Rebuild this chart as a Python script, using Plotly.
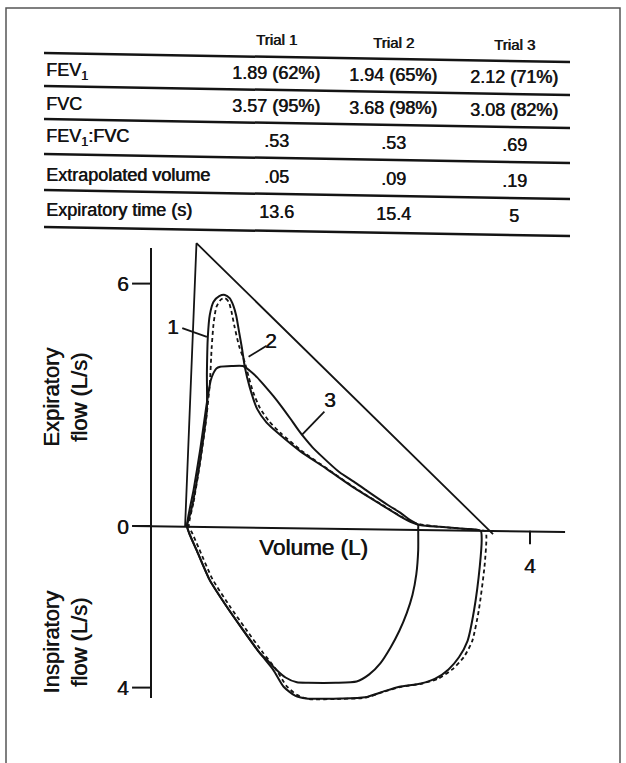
import plotly.graph_objects as go

W, H = 626, 763

# ---- Table contents ----
trial_names = ["Trial 1", "Trial 2", "Trial 3"]
row_labels = ["FEV<sub>1</sub>", "FVC", "FEV<sub>1</sub>:FVC",
              "Extrapolated volume", "Expiratory time (s)"]
trial1_values = ["1.89 (62%)", "3.57 (95%)", ".53", ".05", "13.6"]
trial2_values = ["1.94 (65%)", "3.68 (98%)", ".53", ".09", "15.4"]
trial3_values = ["2.12 (71%)", "3.08 (82%)", ".69", ".19", "5"]

# ---- Flow-volume loops: volume (L), flow (L/s; expiration positive) ----
trial1_vol = [0.38, 0.42, 0.48, 0.55, 0.59, 0.59, 0.60, 0.62, 0.66, 0.72, 0.78,
              0.83, 0.87, 0.90, 0.93, 0.96, 0.99, 1.04, 1.12, 1.22, 1.34, 1.57,
              1.85, 2.14, 2.45, 2.63, 2.75, 2.85, 3.05, 3.30, 3.48,
              3.49, 3.47, 3.41, 3.34, 3.25, 3.14, 3.00, 2.85, 2.62, 2.45, 2.26,
              2.00, 1.64, 1.52, 1.40, 1.29, 1.15, 0.97, 0.80, 0.62, 0.48, 0.41, 0.38]
trial1_flow = [0.00, 0.35, 1.06, 2.13, 2.87, 3.79, 4.69, 5.22, 5.55, 5.69, 5.72,
               5.64, 5.45, 5.20, 4.80, 4.40, 3.94, 3.45, 2.90, 2.56, 2.30, 1.86,
               1.42, 0.95, 0.50, 0.24, 0.09, 0.02, -0.02, -0.07, -0.12,
               -0.30, -1.00, -2.08, -2.85, -3.25, -3.55, -3.78, -3.90, -3.98, -4.10, -4.24,
               -4.27, -4.27, -4.20, -3.98, -3.56, -3.15, -2.57, -2.00, -1.34, -0.59, -0.22, 0.00]

trial2_vol = [0.40, 0.45, 0.52, 0.58, 0.62, 0.64, 0.66, 0.69, 0.74, 0.78, 0.82,
              0.85, 0.88, 0.93, 0.99, 1.03, 1.08, 1.15, 1.25, 1.37, 1.59, 1.87,
              2.16, 2.47, 2.65, 2.78, 2.90, 3.10, 3.35, 3.53,
              3.54, 3.52, 3.46, 3.39, 3.30, 3.18, 3.03, 2.86, 2.64, 2.46, 2.26,
              2.00, 1.66, 1.54, 1.43, 1.32, 1.18, 1.00, 0.83, 0.65, 0.51, 0.44, 0.40]
trial2_flow = [0.00, 0.60, 1.60, 2.60, 3.50, 4.40, 5.00, 5.42, 5.61, 5.64, 5.55,
               5.30, 4.95, 4.45, 4.05, 3.70, 3.30, 2.92, 2.58, 2.30, 1.86, 1.40,
               0.93, 0.48, 0.22, 0.08, 0.02, -0.03, -0.08, -0.13,
               -0.30, -1.00, -2.08, -2.85, -3.25, -3.55, -3.78, -3.90, -3.98, -4.10, -4.25,
               -4.28, -4.28, -4.18, -3.96, -3.55, -3.13, -2.55, -1.98, -1.32, -0.58, -0.20, 0.00]

trial3_vol = [0.38, 0.45, 0.52, 0.58, 0.63, 0.66, 0.69, 0.73, 0.85, 0.97, 1.04,
              1.12, 1.20, 1.29, 1.38, 1.47, 1.56, 1.62, 1.70, 1.80, 1.99,
              2.14, 2.28, 2.50, 2.63, 2.72, 2.82,
              2.82, 2.82, 2.80, 2.76, 2.70, 2.62, 2.53, 2.42, 2.30, 2.17, 1.95,
              1.66, 1.54, 1.42, 1.32, 1.24, 1.15, 0.97, 0.80, 0.62, 0.48, 0.41, 0.38]
trial3_flow = [0.00, 0.90, 1.90, 2.90, 3.60, 3.79, 3.90, 3.94, 3.96, 3.96, 3.85,
               3.68, 3.47, 3.22, 2.95, 2.66, 2.36, 2.18, 1.96, 1.73, 1.33,
               1.10, 0.87, 0.52, 0.33, 0.17, 0.02,
               -0.05, -0.60, -1.20, -1.70, -2.15, -2.60, -3.00, -3.40, -3.68, -3.85, -3.88,
               -3.88, -3.87, -3.75, -3.55, -3.35, -3.15, -2.57, -2.00, -1.34, -0.59, -0.22, 0.00]

# Predicted expiratory envelope
predicted_vol = [0.36, 0.48, 3.61]
predicted_flow = [0.00, 7.00, -0.20]

# Axis ticks
flow_ticks = [6, 0, -4]
flow_tick_text = ["6", "0", "4"]
volume_ticks = [4]
volume_tick_text = ["4"]

# Curve labels: (text, label position, leader start, leader end)
curve_labels = [
    ("1", (0.23, 4.95), (0.33, 4.90), (0.59, 4.68)),
    ("2", (1.27, 4.58), (1.22, 4.46), (1.03, 4.19)),
    ("3", (1.89, 3.12), (1.83, 2.83), (1.59, 2.25)),
]

INK = "#141414"
FONT = "Liberation Sans, Arial, Helvetica, sans-serif"
HEAVY = "0.6px 0 0 #141414"


def px(x):
    return x / W


def py(y):
    return 1 - y / H


def tfont(size):
    return dict(family=FONT, size=size, color=INK, shadow=HEAVY)


fig = go.Figure()

fig.add_trace(go.Scatter(x=predicted_vol, y=predicted_flow, mode="lines",
                         line=dict(color=INK, width=1.8), hoverinfo="skip"))
fig.add_trace(go.Scatter(x=trial3_vol, y=trial3_flow, mode="lines",
                         line=dict(color=INK, width=2, shape="spline", smoothing=0.6),
                         hoverinfo="skip"))
fig.add_trace(go.Scatter(x=trial1_vol, y=trial1_flow, mode="lines",
                         line=dict(color=INK, width=2, shape="spline", smoothing=0.6),
                         hoverinfo="skip"))
fig.add_trace(go.Scatter(x=trial2_vol, y=trial2_flow, mode="lines",
                         line=dict(color=INK, width=1.8, dash="4px,3px",
                                   shape="spline", smoothing=0.6),
                         hoverinfo="skip"))

shapes = []
annotations = []

# Axis lines
shapes.append(dict(type="line", xref="x", yref="y", x0=0, x1=0, y0=6.88, y1=-4.26,
                   line=dict(color=INK, width=2)))
shapes.append(dict(type="line", xref="x", yref="y", x0=-0.19, x1=4.37, y0=0.0, y1=-0.15,
                   line=dict(color=INK, width=2)))

# Flow ticks and labels
for v, t in zip(flow_ticks, flow_tick_text):
    shapes.append(dict(type="line", xref="x", yref="y", x0=-0.2, x1=0, y0=v, y1=v,
                       line=dict(color=INK, width=2)))
    annotations.append(dict(x=-0.30, y=v, xref="x", yref="y", text=t, showarrow=False,
                            xanchor="center", yanchor="middle", font=tfont(21)))

# Volume tick and label
for v, t in zip(volume_ticks, volume_tick_text):
    shapes.append(dict(type="line", xref="x", yref="y", x0=v, x1=v, y0=-0.12, y1=-0.45,
                       line=dict(color=INK, width=2)))
    annotations.append(dict(x=v, y=-0.97, xref="x", yref="y", text=t, showarrow=False,
                            xanchor="center", yanchor="middle", font=tfont(21)))

annotations.append(dict(x=1.71, y=-0.52, xref="x", yref="y", text="Volume (L)",
                        showarrow=False, xanchor="center", yanchor="middle",
                        font=tfont(22.5)))
annotations.append(dict(x=-0.90, y=3.19, xref="x", yref="y",
                        text="Expiratory<br>flow (L/s)", textangle=-90,
                        showarrow=False, xanchor="center", yanchor="middle",
                        font=tfont(22)))
annotations.append(dict(x=-0.90, y=-2.87, xref="x", yref="y",
                        text="Inspiratory<br>flow (L/s)", textangle=-90,
                        showarrow=False, xanchor="center", yanchor="middle",
                        font=tfont(22)))

# Curve labels with leader lines
for text, (lx, ly), (ax0, ay0), (ax1, ay1) in curve_labels:
    annotations.append(dict(x=lx, y=ly, xref="x", yref="y", text=text, showarrow=False,
                            xanchor="center", yanchor="middle", font=tfont(21)))
    shapes.append(dict(type="line", xref="x", yref="y", x0=ax0, y0=ay0, x1=ax1, y1=ay1,
                       line=dict(color=INK, width=1.8)))

# ---- Table ----
col_x = [276, 393, 514]
header_y = [40, 42, 44]
for name, cx, hy in zip(trial_names, col_x, header_y):
    annotations.append(dict(x=px(cx), y=py(hy), xref="paper", yref="paper", text=name,
                            showarrow=False, xanchor="center", yanchor="middle",
                            font=tfont(15)))

label_y = [72, 104, 138, 175, 210]
value_y = [73, 106, 141, 177, 212]
for lab, ly in zip(row_labels, label_y):
    annotations.append(dict(x=px(44), y=py(ly), xref="paper", yref="paper", text=lab,
                            showarrow=False, xanchor="left", yanchor="middle",
                            font=tfont(18)))
for ci, vals in enumerate([trial1_values, trial2_values, trial3_values]):
    for val, vy in zip(vals, value_y):
        annotations.append(dict(x=px(col_x[ci]), y=py(vy + 2 * ci), xref="paper",
                                yref="paper", text=val, showarrow=False,
                                xanchor="center", yanchor="middle", font=tfont(18)))

rule_left = [53, 86, 119, 154, 190, 227]
for yl in rule_left:
    shapes.append(dict(type="line", xref="paper", yref="paper",
                       x0=px(44), x1=px(570), y0=py(yl), y1=py(yl + 9),
                       line=dict(color=INK, width=2.5)))

# Page frame
shapes.append(dict(type="rect", xref="paper", yref="paper",
                   x0=px(6), x1=px(620), y0=py(8), y1=py(775),
                   line=dict(color="#555555", width=1.5)))

fig.update_layout(
    width=W, height=H, autosize=False,
    margin=dict(l=0, r=0, t=0, b=0),
    paper_bgcolor="white", plot_bgcolor="white",
    showlegend=False,
    xaxis=dict(visible=False, range=[-151 / 94.75, 475 / 94.75], fixedrange=True),
    yaxis=dict(visible=False, range=[-237 / 40.4, 526 / 40.4], fixedrange=True),
    shapes=shapes,
    annotations=annotations,
)

fig.write_html("out.html")
